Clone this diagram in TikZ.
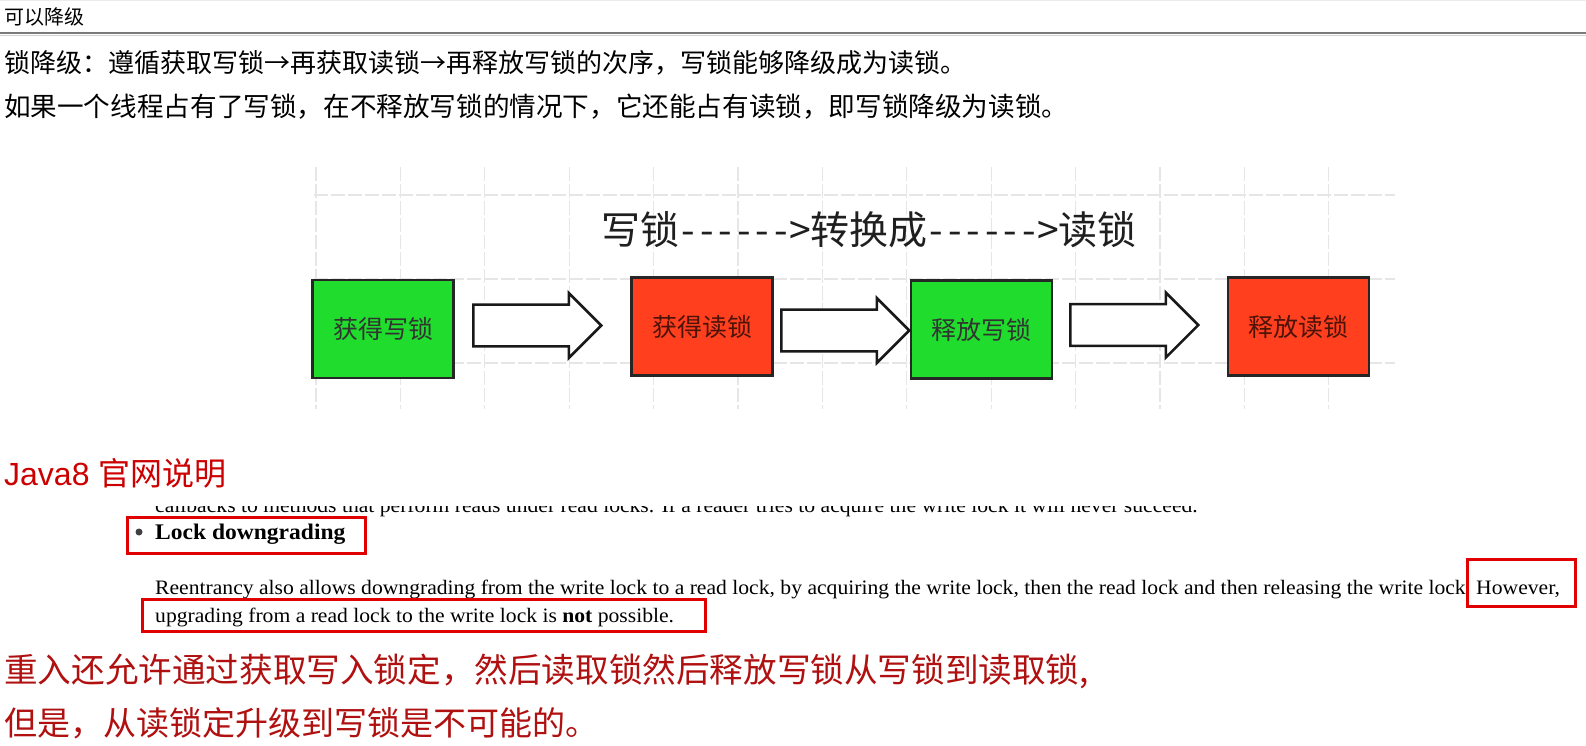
\documentclass[tikz,border=0pt]{standalone}
\usepackage{fontspec}
\setmainfont{Liberation Serif}[FakeStretch=1.055]
\newfontfamily\cjk{Noto Sans CJK SC}
\newfontfamily\latinsans{Liberation Sans}
\usetikzlibrary{shapes.arrows, positioning}
\definecolor{lockgreen}{HTML}{1FDC2D}
\definecolor{lockred}{HTML}{FF3F1E}
\definecolor{gridgray}{HTML}{E6E6E6}
\definecolor{notered}{HTML}{CC0000}
\definecolor{transred}{HTML}{B01010}
\definecolor{markred}{HTML}{E00000}
\definecolor{rulegray}{HTML}{7A7A7A}
\newcommand{\fsz}[1]{\fontsize{#1}{#1}\selectfont}
\newcommand{\dsh}{\makebox[18.5pt]{-}}
\newcommand{\dashto}{\dsh\dsh\dsh\dsh\dsh\dsh\makebox[20pt]{>}}

\begin{document}
\begin{tikzpicture}[x=1pt, y=-1pt,
  gridline/.style={draw=gridgray, line width=1.2, dash pattern=on 14pt off 3pt},
  lockbox/.style={draw=black!85, line width=2.5, minimum width=141, minimum height=98,
                  inner sep=0, font=\cjk\fsz{25}},
  greenbox/.style={lockbox, fill=lockgreen, text=black!80},
  redbox/.style={lockbox, fill=lockred, text=black!70!lockred},
  fatarrow/.style={single arrow, draw=black!90, fill=white, line width=2.5, anchor=tail,
                   minimum height=128, minimum width=65, inner xsep=0, inner ysep=11.5},
  bodytext/.style={anchor=base west, inner sep=0, font=\fsz{20.5}},
  cjkline/.style={anchor=west, inner sep=0, font=\cjk\fsz{26}},
  transline/.style={anchor=west, inner sep=0, text=transred, font=\cjk\fsz{33}},
  markbox/.style={draw=markred, line width=3}]
  \fill[white] (0,0) rectangle (1586,746);
  \useasboundingbox (0,0) rectangle (1586,746);

  % header and rules
  \draw[black!8, line width=1] (0,1) -- (1586,1);
  \node[anchor=west, inner sep=0, font=\cjk\fsz{20}] (header) at (4,17) {可以降级};
  \draw[rulegray, line width=2] (0,33) -- (1586,33);
  \draw[black!18, line width=1] (0,36) -- (1586,36);
  \node[cjkline] (rule1) at (4,63) {锁降级：遵循获取写锁→再获取读锁→再释放写锁的次序，写锁能够降级成为读锁。};
  \node[cjkline, font=\cjk\fsz{26.6}] (rule2) at (4,107) {如果一个线程占有了写锁，在不释放写锁的情况下，它还能占有读锁，即写锁降级为读锁。};

  % grid behind the diagram
  \foreach \i in {0,...,12}
    \draw[gridline] ({316+84.4*\i},167) -- ({316+84.4*\i},409);
  \foreach \gy in {195,279,363}
    \draw[gridline] (314,\gy) -- (1395,\gy);

  \node[font=\cjk\fsz{39}, text=black!88, inner sep=0] (title) at (869,230)
    {写锁\dashto 转换成\dashto 读锁};

  % the four steps
  \node[greenbox] (getw) at (383,329) {获得写锁};
  \node[redbox] (getr) at (702,326.5) {获得读锁};
  \node[greenbox] (relw) at (981.5,329.5) {释放写锁};
  \node[redbox] (relr) at (1298.5,326.5) {释放读锁};
  \node[fatarrow] (step1) at (472,325.5) {};
  \node[fatarrow] (step2) at (780,330.5) {};
  \node[fatarrow] (step3) at (1069,325) {};

  % Java 8 documentation
  \node[anchor=west, inner sep=0, text=notered, font=\fsz{32}] (java) at (4,473)
    {{\latinsans Java8} {\cjk 官网说明}};
  \begin{scope}
    \clip (140,506) rectangle (1300,520);
    \node[bodytext] (cutline) at (155,512) {callbacks to methods that perform reads under read locks. If a reader tries to acquire the write lock it will never succeed.};
  \end{scope}
  \node[circle, fill=black!75, minimum size=7, inner sep=0] (bullet) at (139,532) {};
  \node[bodytext, font=\bfseries\fsz{22.3}] (lockdown) at (155,539) {Lock downgrading};
  \draw[markbox] (127,517) rectangle (365,553);
  \node[bodytext] (reent) at (155,594) {Reentrancy also allows downgrading from the write lock to a read lock, by acquiring the write lock, then the read lock and then releasing the write lock};
  \node[bodytext] (however) at (1476,594) {However,};
  \draw[markbox] (1467,559) rectangle (1575,606);
  \node[bodytext] (upgrade) at (155,622) {upgrading from a read lock to the write lock is \textbf{not} possible.};
  \draw[markbox] (142,599) rectangle (705,631);

  % translation
  \node[transline, font=\cjk\fsz{33.6}] (trans1) at (4,671) {重入还允许通过获取写入锁定，然后读取锁然后释放写锁从写锁到读取锁,};
  \node[transline] (trans2) at (4,723) {但是，从读锁定升级到写锁是不可能的。};
\end{tikzpicture}
\end{document}
